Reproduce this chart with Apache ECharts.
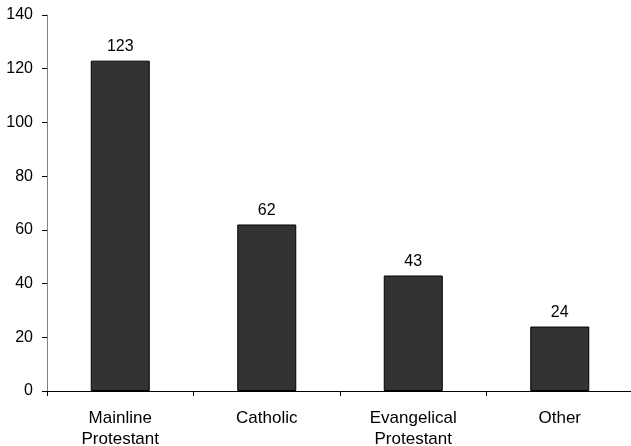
<!DOCTYPE html>
<html><head><meta charset="utf-8">
<script src="https://cdn.jsdelivr.net/npm/echarts@6/dist/echarts.min.js"></script>
<style>html,body{margin:0;padding:0;background:#fff}#c{width:631px;height:446px}</style>
</head><body><div id="c"></div>
<script>
const categories = ["Mainline\nProtestant", "Catholic", "Evangelical\nProtestant", "Other"];
const values = [123, 62, 43, 24];
const yTicks = [0, 20, 40, 60, 80, 100, 120, 140];

const chart = echarts.init(document.getElementById('c'), null, {renderer: 'canvas'});
const font = 'Liberation Sans, Arial, sans-serif';
chart.setOption({
  animation: false,
  backgroundColor: '#fff',
  grid: {left: 47, top: 15, width: 586, height: 376, containLabel: false, outerBoundsMode: 'none'},
  xAxis: {
    type: 'category', data: categories,
    axisLine: {lineStyle: {color: '#000', width: 1}},
    axisTick: {show: true, length: 5, lineStyle: {color: '#000'}, alignWithLabel: false},
    axisLabel: {color: '#000', fontFamily: font, fontSize: 17, margin: 17, lineHeight: 21, interval: 0}
  },
  yAxis: {
    type: 'value', min: yTicks[0], max: yTicks[yTicks.length - 1], interval: 20,
    splitLine: {show: false},
    axisLine: {show: true, lineStyle: {color: '#808080', width: 1}},
    axisTick: {show: true, length: 5, lineStyle: {color: '#000'}},
    axisLabel: {color: '#000', fontFamily: font, fontSize: 16, margin: 14}
  },
  series: [{
    type: 'bar', data: values, barWidth: 59,
    itemStyle: {color: '#333333', borderColor: '#000', borderWidth: 1},
    label: {show: true, position: 'top', distance: 6, color: '#000', fontFamily: font, fontSize: 16}
  }]
});
</script></body></html>
